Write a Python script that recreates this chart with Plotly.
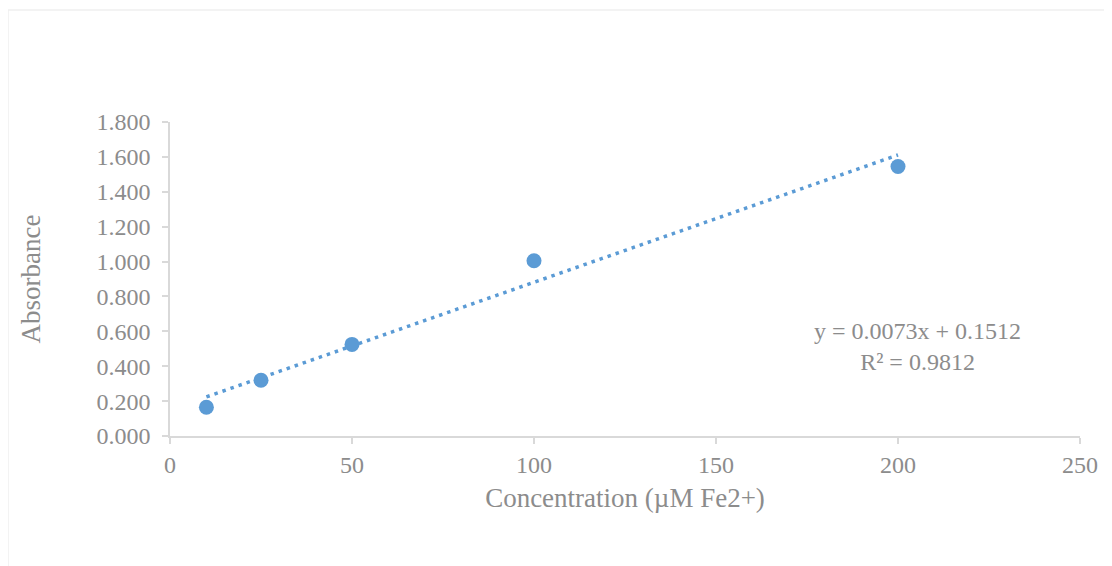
import plotly.graph_objects as go

conc = [10, 25, 50, 100, 200]
absorbance = [0.165, 0.32, 0.525, 1.005, 1.545]
slope = 0.0073
intercept = 0.1512
r2 = 0.9812
trend_x = [min(conc), max(conc)]
trend_y = [slope * v + intercept for v in trend_x]

blue = "#5b9bd5"
gray_text = "#8c8c8c"
axis_col = "#d9d9d9"
font_family = "Liberation Serif, Times New Roman, serif"

fig = go.Figure()
fig.add_trace(go.Scatter(x=trend_x, y=trend_y, mode="lines",
                         line=dict(color=blue, width=3.5, dash="3.5px,5px"),
                         showlegend=False, hoverinfo="skip"))
fig.add_trace(go.Scatter(x=conc, y=absorbance, mode="markers",
                         marker=dict(color=blue, size=15),
                         showlegend=False))

W, H = 1104, 558
L, T = 162, 114
R = W - 1072
B = H - 428
pw, ph = W - L - R, H - T - B

fig.add_shape(type="rect", xref="paper", yref="paper",
              x0=(0 - L) / pw, x1=(W + 20 - L) / pw,
              y0=-(H + 20 - T - ph) / ph, y1=1 + (T - 2) / ph,
              line=dict(color="#f0f0f0", width=1.5), layer="below")

fig.add_annotation(xref="paper", yref="paper",
                   x=(909 - L) / pw, y=1 - (338 - T) / ph,
                   xanchor="center", yanchor="middle",
                   text=f"y = {slope}x + {intercept}<br>R² = {r2}",
                   showarrow=False, align="center",
                   font=dict(family=font_family, size=24, color=gray_text))

fig.update_layout(
    width=W, height=H,
    margin=dict(l=L, r=R, t=T, b=B),
    paper_bgcolor="white", plot_bgcolor="white",
    font=dict(family=font_family, size=24, color=gray_text),
    xaxis=dict(range=[0, 250], dtick=50, showgrid=False, zeroline=False,
               showline=True, linecolor=axis_col, linewidth=1.5,
               ticks="outside", tickcolor=axis_col, ticklen=6, tickwidth=1.5,
               title=dict(text="Concentration (µM Fe2+)", standoff=12,
                          font=dict(size=27, color=gray_text))),
    yaxis=dict(range=[0, 1.8], dtick=0.2, tickformat=".3f", showgrid=False, zeroline=False,
               showline=True, linecolor=axis_col, linewidth=1.5,
               ticks="outside", tickcolor=axis_col, ticklen=6, tickwidth=1.5,
               ticklabelstandoff=7,
               title=dict(text="Absorbance", standoff=48,
                          font=dict(size=27, color=gray_text))),
)

fig.write_html("out.html")
